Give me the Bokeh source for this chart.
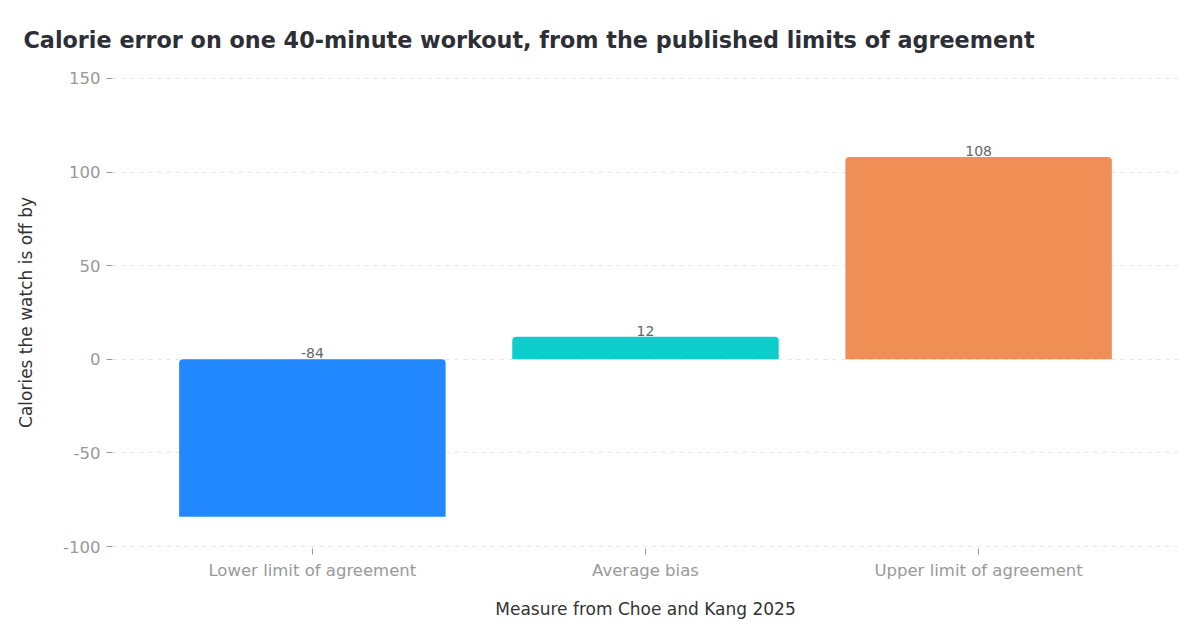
from bokeh.plotting import figure
from bokeh.models import ColumnDataSource, FactorRange, Range1d
from bokeh.core.properties import value
from bokeh.embed import file_html
from bokeh.resources import INLINE

# Choe and Kang 2025, one 40-minute workout
categories = ["Lower limit of agreement", "Average bias", "Upper limit of agreement"]
values = [-84, 12, 108]
bar_colors = ["#2188FF", "#0CCDCC", "#F08F55"]
y_ticks = [-100, -50, 0, 50, 100, 150]

FONT = "DejaVu Sans"

source = ColumnDataSource(data=dict(
    cat=categories,
    val=values,
    color=bar_colors,
    label_y=[max(v, 0) for v in values],
    label=[str(v) for v in values],
))

p = figure(
    title="Calorie error on one 40-minute workout, from the published limits of agreement",
    x_range=FactorRange(*categories, range_padding=0.1, range_padding_units="absolute"),
    # a hair of room so the gridlines at -100 and 150 are not clipped
    y_range=Range1d(-101, 151),
    width=1184, height=626,
    output_backend="svg", toolbar_location=None,
    x_axis_label="Measure from Choe and Kang 2025",
    y_axis_label="Calories the watch is off by",
    min_border_left=112, min_border_right=6, min_border_top=76, min_border_bottom=78,
)

p.vbar(x="cat", top="val", bottom=0, width=0.8, source=source,
       fill_color="color", line_color=None, border_radius=(4, 4, 0, 0))

p.text(x="cat", y="label_y", text="label", source=source,
       text_align="center", text_baseline="bottom", y_offset=-1,
       text_font_size="14px", text_color="#666666", text_font=value(FONT))

# title
p.title.text_font = FONT
p.title.text_font_size = "22.3px"
p.title.text_font_style = "bold"
p.title.text_color = "#2d2f36"
p.title.align = "left"
p.title.offset = -89
p.title.standoff = 48

p.outline_line_color = None
p.background_fill_color = "white"
p.border_fill_color = "white"

p.xgrid.grid_line_color = None
p.ygrid.grid_line_color = "#e6e6e6"
p.ygrid.grid_line_dash = "4 5"
p.ygrid.grid_line_width = 1

p.yaxis.ticker = y_ticks
p.yaxis.major_label_overrides = {t: str(t) for t in y_ticks}
for ax in (p.xaxis, p.yaxis):
    ax.axis_line_color = None
    ax.major_tick_line_color = "#999999"
    ax.major_tick_out = 6
    ax.major_tick_in = 0
    ax.minor_tick_line_color = None
    ax.major_label_text_font = FONT
    ax.major_label_text_font_size = "16.5px"
    ax.major_label_text_color = "#999999"
    ax.axis_label_text_font = FONT
    ax.axis_label_text_font_size = "17px"
    ax.axis_label_text_font_style = "normal"
    ax.axis_label_text_color = "#333333"

p.yaxis.major_label_standoff = 6
p.yaxis.axis_label_standoff = 24
p.xaxis.major_label_standoff = 6
p.xaxis.axis_label_standoff = 16

open("out.html", "w").write(file_html(p, INLINE))
